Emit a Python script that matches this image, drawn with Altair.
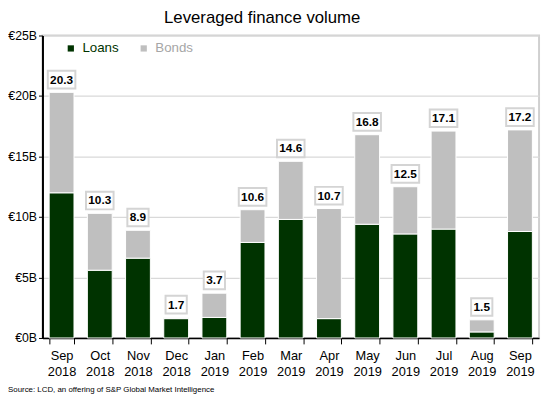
import altair as alt
import pandas as pd

months = ["Sep 2018", "Oct 2018", "Nov 2018", "Dec 2018", "Jan 2019", "Feb 2019", "Mar 2019",
          "Apr 2019", "May 2019", "Jun 2019", "Jul 2019", "Aug 2019", "Sep 2019"]
loans = [12.0, 5.6, 6.6, 1.6, 1.7, 7.9, 9.8, 1.6, 9.4, 8.6, 9.0, 0.5, 8.8]
bonds = [8.3, 4.7, 2.3, 0.1, 2.0, 2.7, 4.8, 9.1, 7.4, 3.9, 8.1, 1.0, 8.4]
totals = [20.3, 10.3, 8.9, 1.7, 3.7, 10.6, 14.6, 10.7, 16.8, 12.5, 17.1, 1.5, 17.2]
y_ticks = [0, 5, 10, 15, 20, 25]
source = "Source: LCD, an offering of S&P Global Market Intelligence"
title = "Leveraged finance volume"

FONT = "Liberation Sans, Arial, sans-serif"
GREEN = "#003300"
GRAY = "#bfbfbf"

rows = []
for m, l, b in zip(months, loans, bonds):
    rows.append({"month": m, "type": "Loans", "value": l, "ord": 0})
    rows.append({"month": m, "type": "Bonds", "value": b, "ord": 1})
df = pd.DataFrame(rows)
tot = pd.DataFrame({"month": months, "total": totals,
                    "lab": [f"{t:.1f}" for t in totals]})

W, H = 504, 307

xenc = alt.X("month:N", sort=months, title=None,
             scale=alt.Scale(paddingInner=0.35, paddingOuter=0.175),
             axis=alt.Axis(labelAngle=0, labelExpr="split(datum.label, ' ')",
                           labelFont=FONT, labelFontSize=13, labelLineHeight=16,
                           labelColor="black", labelPadding=6,
                           tickBand="extent", tickSize=6, tickColor="black", tickWidth=1,
                           domainColor="black", domainWidth=1.5, grid=False))

yscale = alt.Scale(domain=[0, 25], nice=False)

bars = alt.Chart(df).mark_bar(stroke="white", strokeWidth=1).encode(
    x=xenc,
    y=alt.Y("value:Q", stack="zero", scale=yscale, title=None,
            axis=alt.Axis(values=y_ticks, labelExpr="'€' + datum.value + 'B'",
                          labelFont=FONT, labelFontSize=12.5, labelColor="black",
                          labelPadding=2, tickSize=4, tickColor="black",
                          domainColor="black", domainWidth=2,
                          grid=True, gridColor="#d9d9d9", gridWidth=1.2)),
    color=alt.Color("type:N", scale=alt.Scale(domain=["Loans", "Bonds"], range=[GREEN, GRAY]),
                    legend=alt.Legend(title=None, orient="none", direction="horizontal",
                                      legendX=22, legendY=6, padding=0,
                                      symbolType="square", symbolSize=40,
                                      symbolStrokeWidth=0,
                                      labelFont=FONT, labelFontSize=13.5,
                                      labelColor={"expr": "datum.value == 'Loans' ? '#003300' : '#a6a6a6'"},
                                      labelOffset=5, columnPadding=18)),
    order=alt.Order("ord:Q"),
)

box_big = "M-1,-0.64H1V0.64H-1Z"
box_small = "M-0.77,-0.64H0.77V0.64H-0.77Z"

boxes = alt.Chart(tot).mark_point(filled=True, fill="white", stroke="#d4d4d4",
                                  strokeWidth=2, size=784, yOffset=-13, opacity=1).encode(
    x=alt.X("month:N", sort=months),
    y=alt.Y("total:Q", scale=yscale),
    shape=alt.condition("datum.total >= 10", alt.value(box_big), alt.value(box_small)),
)

labels = alt.Chart(tot).mark_text(font=FONT, fontSize=12, fontWeight="bold", color="black",
                                  baseline="middle", yOffset=-13).encode(
    x=alt.X("month:N", sort=months),
    y=alt.Y("total:Q", scale=yscale),
    text="lab:N",
)

src = alt.Chart(alt.Data(values=[{"t": source}])).mark_text(
    font=FONT, fontSize=8, color="black", align="left", baseline="alphabetic").encode(
    x=alt.value(-35), y=alt.value(362), text="t:N")

chart = alt.layer(bars, boxes, labels, src).properties(
    width=W, height=H,
    title=alt.TitleParams(title, font=FONT, fontSize=17, fontWeight="normal",
                          color="black", anchor="middle", dx=-29, offset=3),
    autosize=alt.AutoSizeParams(type="none"),
    padding={"left": 35, "top": 25, "right": 3, "bottom": 58},
).configure_view(stroke="#d0d0d0", strokeWidth=2).configure_axis(zindex=1)

chart.save("out.html", embed_options={"renderer": "svg", "actions": False})
